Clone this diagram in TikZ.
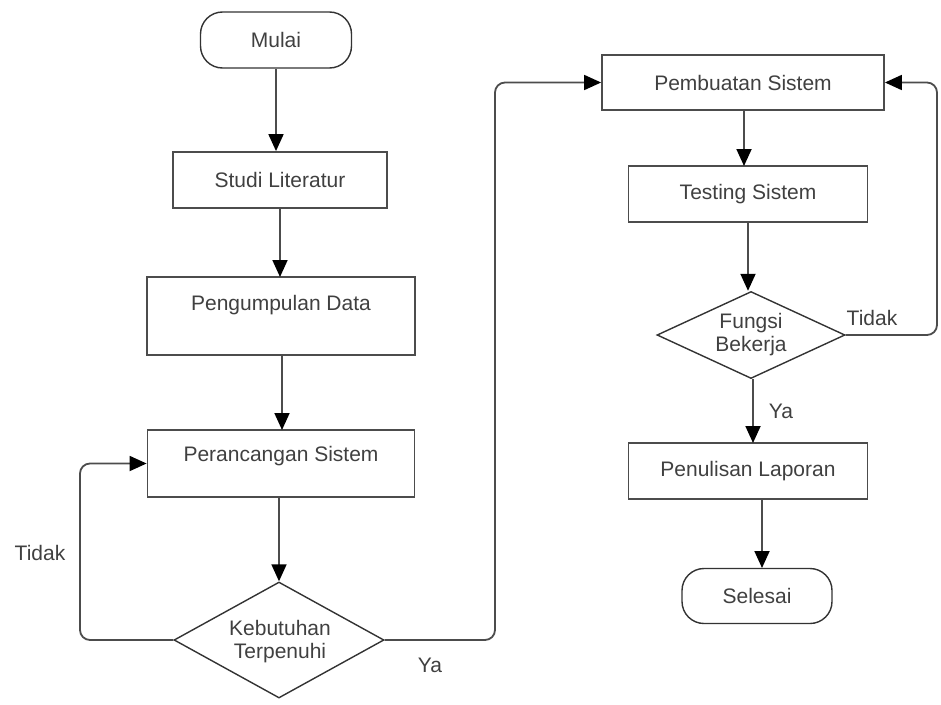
\documentclass[tikz,border=0pt]{standalone}
\usepackage{fontspec}
\setmainfont{Liberation Sans}
\usetikzlibrary{arrows.meta,shapes.geometric}
\begin{document}
\begin{tikzpicture}[x=1pt,y=-1pt,
  txt/.style={text=black!75, font=\fontsize{21}{23}\selectfont, inner sep=0pt, align=center},
  stepbox/.style={draw=black!70, line width=1.8pt, rectangle, inner sep=0pt},
  term/.style={draw=black!80, line width=1.4pt, rectangle, rounded corners=22pt, inner sep=0pt},
  decide/.style={draw=black!80, line width=1.4pt, diamond, inner sep=0pt},
  flow/.style={draw=black!70, line width=1.8pt, rounded corners=10pt,
    -{Triangle[length=17pt,width=15pt,fill=black,color=black]}},
  lbl/.style={text=black!75, font=\fontsize{21}{23}\selectfont, inner sep=0pt}
]
\useasboundingbox (0,0) rectangle (941,704);

% left column
\node[term, minimum width=151, minimum height=56] (mulai) at (276,40) {};
\node[txt] (mulaiT) at (mulai.center) {Mulai};

\node[stepbox, minimum width=214, minimum height=56] (studi) at (280,180) {};
\node[txt] (studiT) at (studi.center) {Studi Literatur};

\node[stepbox, minimum width=268, minimum height=78] (kumpul) at (281,316) {};
\node[txt] (kumpulT) at (281,305) {Pengumpulan Data};

\node[stepbox, minimum width=267, minimum height=67] (rancang) at (281,463.5) {};
\node[txt] (rancangT) at (281,456) {Perancangan Sistem};

\node[decide, minimum width=210, minimum height=116] (butuh) at (279,640) {};
\node[txt] (butuhT) at (280,642) {Kebutuhan\\Terpenuhi};

% right column
\node[stepbox, minimum width=282, minimum height=55] (buat) at (743,82.5) {};
\node[txt] (buatT) at (buat.center) {Pembuatan Sistem};

\node[stepbox, minimum width=239, minimum height=56] (tes) at (748,194) {};
\node[txt] (tesT) at (tes.center) {Testing Sistem};

\node[decide, minimum width=188, minimum height=87] (fungsi) at (751,335) {};
\node[txt] (fungsiT) at (fungsi.center) {Fungsi\\Bekerja};

\node[stepbox, minimum width=239, minimum height=56] (tulis) at (748,471) {};
\node[txt] (tulisT) at (tulis.center) {Penulisan Laporan};

\node[term, minimum width=150, minimum height=55] (selesai) at (757,596) {};
\node[txt] (selesaiT) at (selesai.center) {Selesai};

% turning points of the loop-back lines
\coordinate (tkL) at (80,0);
\coordinate (yaR) at (495,0);
\coordinate (tkR) at (937,0);

% straight flow
\draw[flow] (mulai.south) -- (mulai.south |- studi.north);
\draw[flow] (280,208) -- (280,277);
\draw[flow] (282,355) -- (282,430);
\draw[flow] (butuh.north |- rancang.south) -- (butuh.north);
\draw[flow] (744,110) -- (744,166);
\draw[flow] (tes.south) -- (tes.south |- fungsi.north);
\draw[flow] (753,379) -- (753,443);
\draw[flow] (762,499) -- (762,568);

% decision branches
\draw[flow] (butuh.west) -- (tkL |- butuh.west) -- (tkL |- rancang.west) -- (rancang.west);
\draw[flow] (butuh.east) -- (yaR |- butuh.east) -- (yaR |- buat.west) -- (buat.west);
\draw[flow] (fungsi.east) -- (tkR |- fungsi.east) -- (tkR |- buat.east) -- (buat.east);

% branch labels
\node[lbl] (tdk1) at (40,553) {Tidak};
\node[lbl] (ya1) at (430,665) {Ya};
\node[lbl] (tdk2) at (872,318) {Tidak};
\node[lbl] (ya2) at (781,411) {Ya};
\end{tikzpicture}
\end{document}
